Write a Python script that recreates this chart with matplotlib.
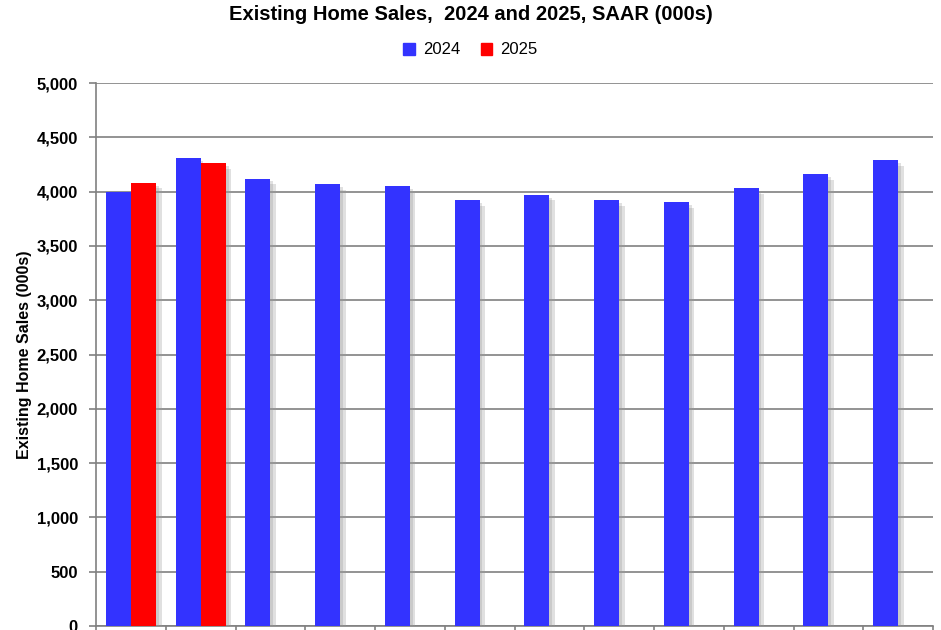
import matplotlib
matplotlib.use("Agg")
import matplotlib.pyplot as plt
import matplotlib.patheffects as pe
import numpy as np

# data (000s, SAAR)
months = ["Jan", "Feb", "Mar", "Apr", "May", "Jun",
          "Jul", "Aug", "Sep", "Oct", "Nov", "Dec"]
sales_2024 = [4000, 4310, 4120, 4070, 4050, 3920, 3970, 3920, 3900, 4030, 4160, 4290]
sales_2025 = [4080, 4260]

BLUE = "#3333ff"
RED = "#ff0000"
GRID = "#808080"

plt.rcParams["font.family"] = ["Liberation Sans", "DejaVu Sans"]

fig = plt.figure(figsize=(9.41, 6.30), dpi=100)
ax = fig.add_axes([96 / 941, 4 / 630, 837 / 941, 543 / 630])

x = np.arange(len(months))
w = 0.36
shadow = [pe.SimplePatchShadow(offset=(4, -4), shadow_rgbFace="#999999", alpha=0.3),
          pe.SimplePatchShadow(offset=(2, -2), shadow_rgbFace="#999999", alpha=0.3),
          pe.Normal()]

b1 = ax.bar(x - w / 2, sales_2024, width=w, color=BLUE, label="2024", zorder=3)
b2 = ax.bar(x[:len(sales_2025)] + w / 2, sales_2025, width=w, color=RED, label="2025", zorder=3)
for p in list(b1) + list(b2):
    p.set_path_effects(shadow)

ax.set_xlim(-0.5, len(months) - 0.5)
ax.set_ylim(0, 5000)
ax.set_yticks(np.arange(0, 5001, 500))
ax.set_yticklabels([f"{v:,}" for v in range(0, 5001, 500)], fontsize=12, fontweight="bold")
ax.yaxis.grid(True, color=GRID, linewidth=1.2, zorder=0)
ax.set_axisbelow(True)

# category boundary ticks; the month labels sit below the cropped bottom edge
ax.set_xticks(np.arange(-0.5, len(months), 1.0))
ax.set_xticklabels([])
ax.tick_params(axis="x", length=5, color=GRID, width=1.2)
ax.tick_params(axis="y", length=5, color=GRID, width=1.2, pad=8)

for s in ["top", "right"]:
    ax.spines[s].set_visible(False)
for s in ["left", "bottom"]:
    ax.spines[s].set_color(GRID)
    ax.spines[s].set_linewidth(1.2)

ax.set_ylabel("Existing Home Sales (000s)", fontsize=11.5, fontweight="bold", labelpad=3)

fig.suptitle("Existing Home Sales,  2024 and 2025, SAAR (000s)", fontsize=14.5,
             fontweight="bold", y=0.992)
leg_h = [plt.Rectangle((0, 0), 1, 1, color=BLUE), plt.Rectangle((0, 0), 1, 1, color=RED)]
fig.legend(handles=leg_h, labels=["2024", "2025"], loc="center",
           bbox_to_anchor=(0.5, 1 - 50 / 630), ncol=2, frameon=False, fontsize=12,
           handlelength=0.7, handleheight=0.7, handletextpad=0.5, columnspacing=1.2)

fig.savefig("out.png", dpi=100)
